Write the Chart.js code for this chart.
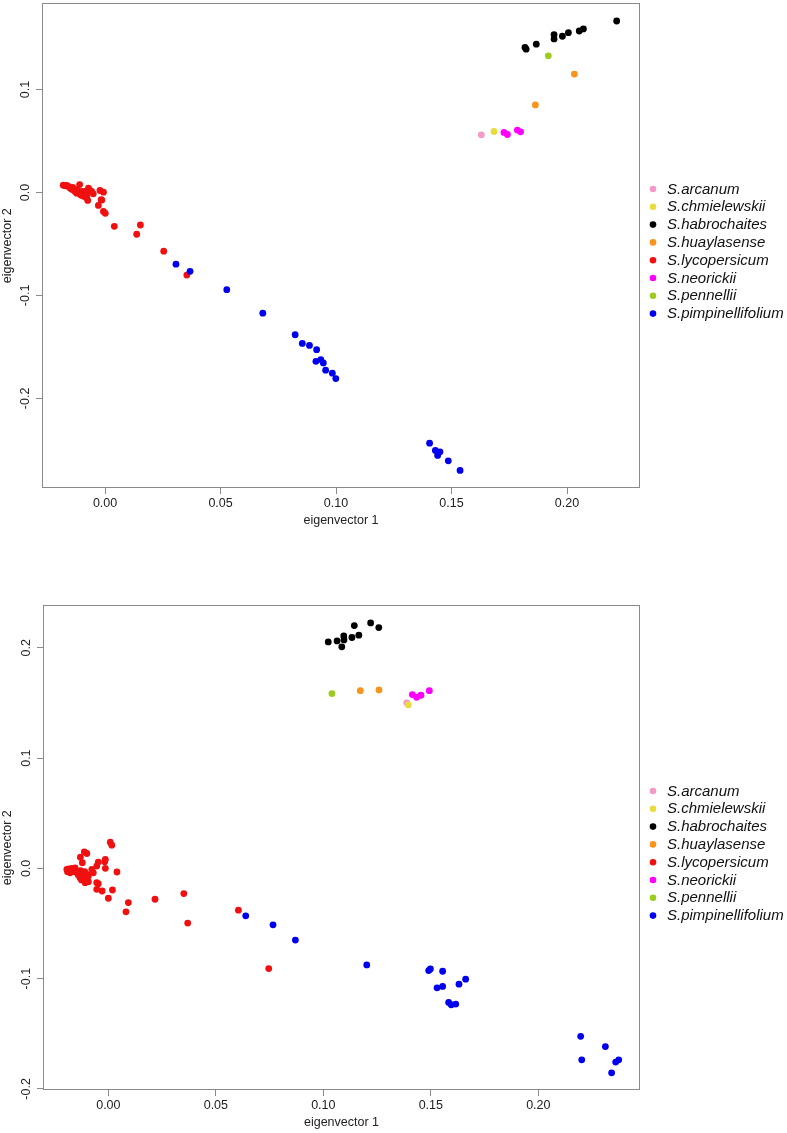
<!DOCTYPE html>
<html><head><meta charset="utf-8">
<script src="https://cdn.jsdelivr.net/npm/chart.js@4.4.0/dist/chart.umd.min.js"></script>
<style>
html,body{margin:0;padding:0;background:#fff;}
body{width:787px;height:1133px;position:relative;overflow:hidden;}
.wrap{position:absolute;left:0;width:787px;height:531px;}
#w1{top:0;} #w2{top:602px;}
canvas{display:block;}
</style></head><body>
<div class="wrap" id="w1"><canvas id="c1" width="787" height="531"></canvas></div>
<div class="wrap" id="w2"><canvas id="c2" width="787" height="531"></canvas></div>
<script>
// ---- categories ----
const species = ["S.arcanum","S.chmielewskii","S.habrochaites","S.huaylasense","S.lycopersicum","S.neorickii","S.pennellii","S.pimpinellifolium"];
const speciesColors = ["#f49ac8","#e8dc3c","#000000","#f7941d","#f01010","#ff00ff","#9acd20","#0000ee"];

// ---- tick labels ----
const xTickStep = 0.05;
const yTickStep = 0.1;

// ---- plot 1 (top) values [eigenvector 1, eigenvector 2] ----
const p1Arcanum = [[0.1629,0.0560]];
const p1Chmielewskii = [[0.1684,0.0592]];
const p1Habrochaites = [[0.2215,0.1665],[0.2071,0.1588],[0.2053,0.1568],[0.2006,0.1552],[0.1980,0.1517],[0.1944,0.1533],[0.1944,0.1491],[0.1867,0.1440],[0.1818,0.1408],[0.1823,0.1391]];
const p1Huaylasense = [[0.2032,0.1150],[0.1863,0.0850]];
const p1Lycopersicum = [[-0.0181,0.0071],[-0.0166,0.0068],[-0.0152,0.0048],[-0.0137,0.0026],[-0.0110,0.0077],[-0.0123,-0.0007],[-0.0101,-0.0022],[-0.0087,0.0010],[-0.0072,0.0042],[-0.0075,-0.0077],[-0.0051,-0.0013],[-0.0065,0.0019],[-0.0022,0.0019],[-0.0007,0.0003],[-0.0014,-0.0074],[-0.0029,-0.0126],[-0.0007,-0.0184],[0.0001,-0.0203],[0.0040,-0.0329],[0.0153,-0.0316],[0.0137,-0.0406],[0.0254,-0.0570],[0.0354,-0.0802],[-0.0173,0.0065],[-0.0159,0.0058],[-0.0144,0.0030],[-0.0130,0.0010],[-0.0108,-0.0010],[-0.0094,-0.0025],[-0.0079,-0.0039],[-0.0058,0.0010],[-0.0150,0.0040],[-0.0120,0.0030],[-0.0100,0.0010],[-0.0090,-0.0010],[-0.0115,-0.0005],[-0.0080,0.0000],[-0.0140,0.0050],[-0.0125,0.0015],[-0.0095,-0.0035],[-0.0085,-0.0045],[-0.0105,-0.0025],[-0.0017,-0.0071]];
const p1Neorickii = [[0.1727,0.0583],[0.1742,0.0563],[0.1785,0.0606],[0.1799,0.0589]];
const p1Pennellii = [[0.1919,0.1327]];
const p1Pimpinellifolium = [[0.0307,-0.0696],[0.0368,-0.0766],[0.0527,-0.0944],[0.0683,-0.1172],[0.0823,-0.1382],[0.0854,-0.1466],[0.0885,-0.1485],[0.0916,-0.1527],[0.0913,-0.1640],[0.0934,-0.1623],[0.0945,-0.1655],[0.0955,-0.1726],[0.0984,-0.1755],[0.0999,-0.1807],[0.1405,-0.2435],[0.1430,-0.2506],[0.1450,-0.2519],[0.1440,-0.2554],[0.1486,-0.2606],[0.1537,-0.2699]];

// ---- plot 2 (bottom) values ----
const p2Arcanum = [[0.1388,0.1501]];
const p2Chmielewskii = [[0.1395,0.1483]];
const p2Habrochaites = [[0.1023,0.2054],[0.1064,0.2063],[0.1086,0.2009],[0.1095,0.2108],[0.1096,0.2072],[0.1133,0.2094],[0.1144,0.2202],[0.1165,0.2115],[0.1220,0.2226],[0.1258,0.2184]];
const p2Huaylasense = [[0.1172,0.1612],[0.1259,0.1618]];
const p2Lycopersicum = [[-0.0193,-0.0009],[-0.0178,-0.0040],[-0.0155,0.0005],[-0.0132,-0.0085],[-0.0130,0.0102],[-0.0121,0.0051],[-0.0112,0.0150],[-0.0100,0.0135],[-0.0104,-0.0115],[-0.0098,-0.0054],[-0.0077,-0.0009],[-0.0054,0.0021],[-0.0047,0.0057],[-0.0054,-0.0130],[-0.0047,-0.0139],[-0.0054,-0.0190],[-0.0029,-0.0205],[-0.0014,0.0081],[-0.0014,0.0000],[0.0000,-0.0271],[0.0009,0.0237],[0.0016,0.0210],[0.0019,-0.0196],[0.0040,-0.0033],[0.0082,-0.0394],[0.0093,-0.0310],[0.0217,-0.0280],[0.0351,-0.0229],[0.0369,-0.0496],[0.0605,-0.0379],[0.0746,-0.0909],[-0.0163,-0.0009],[-0.0147,-0.0040],[-0.0116,-0.0054],[-0.0093,-0.0069],[-0.0070,-0.0040],[-0.0093,-0.0121],[-0.0108,-0.0130],[-0.0017,0.0060],[-0.0185,-0.0005],[-0.0170,0.0000],[-0.0160,-0.0030],[-0.0140,-0.0060],[-0.0130,-0.0020],[-0.0120,-0.0080],[-0.0110,-0.0030],[-0.0190,-0.0030],[-0.0125,-0.0105],[-0.0185,-0.0020]];
const p2Neorickii = [[0.1414,0.1576],[0.1434,0.1552],[0.1454,0.1570],[0.1493,0.1612]];
const p2Pennellii = [[0.1040,0.1585]];
const p2Pimpinellifolium = [[0.0639,-0.0430],[0.0766,-0.0512],[0.0870,-0.0650],[0.1202,-0.0876],[0.1490,-0.0927],[0.1498,-0.0912],[0.1555,-0.0933],[0.1662,-0.1005],[0.1631,-0.1050],[0.1529,-0.1083],[0.1555,-0.1071],[0.1583,-0.1216],[0.1595,-0.1237],[0.1616,-0.1231],[0.2197,-0.1523],[0.2312,-0.1616],[0.2202,-0.1736],[0.2360,-0.1757],[0.2374,-0.1736],[0.2341,-0.1854]];

const plot1Series = [p1Arcanum,p1Chmielewskii,p1Habrochaites,p1Huaylasense,p1Lycopersicum,p1Neorickii,p1Pennellii,p1Pimpinellifolium];
const plot2Series = [p2Arcanum,p2Chmielewskii,p2Habrochaites,p2Huaylasense,p2Lycopersicum,p2Neorickii,p2Pennellii,p2Pimpinellifolium];

// axis ranges
const plot1Range = {xmin:-0.0273, xmax:0.2316, ymin:-0.2870, ymax:0.1836};
const plot2Range = {xmin:-0.0304, xmax:0.2473, ymin:-0.2010, ymax:0.2385};

const FONT = '"Liberation Sans", Arial, Helvetica, sans-serif';
const AXIS_COL = '#8a8a8a';
const TEXT_COL = '#222';

const boxPlugin = {
  id: 'boxPlugin',
  afterDraw(chart) {
    const {ctx, chartArea: a} = chart;
    ctx.save();
    ctx.strokeStyle = AXIS_COL;
    ctx.lineWidth = 1;
    const l = Math.round(a.left) + 0.5, t = Math.round(a.top) + 0.5;
    const r = Math.round(a.right) - 0.5, b = Math.round(a.bottom) - 0.5;
    ctx.strokeRect(l, t, r - l, b - t);
    ctx.restore();
  }
};

const rLegend = {
  id: 'rLegend',
  afterDraw(chart) {
    const {ctx} = chart;
    const x0 = 653, tx = 667, y0 = 189, dy = 17.8;
    ctx.save();
    ctx.font = 'italic 15px ' + FONT;
    ctx.textBaseline = 'middle';
    ctx.textAlign = 'left';
    species.forEach((s, i) => {
      const y = y0 + i * dy;
      ctx.fillStyle = speciesColors[i];
      ctx.beginPath();
      ctx.arc(x0, y, 3.3, 0, Math.PI * 2);
      ctx.fill();
      ctx.fillStyle = '#111';
      ctx.fillText(s, tx, y + 0.5);
    });
    ctx.restore();
  }
};

function makeChart(id, series, range, yAxisWidth) {
  const datasets = series.map((pts, i) => ({
    label: species[i],
    data: pts.map(p => ({x: p[0], y: p[1]})),
    backgroundColor: speciesColors[i],
    borderWidth: 0,
    pointRadius: 3.4,
    pointHoverRadius: 3.4,
    pointStyle: 'circle',
    order: series.length - 1 - i
  }));
  return new Chart(document.getElementById(id), {
    type: 'scatter',
    data: {datasets},
    plugins: [boxPlugin, rLegend],
    options: {
      responsive: false,
      animation: false,
      devicePixelRatio: 1,
      events: [],
      layout: {padding: {top: 1, right: 147, bottom: 0, left: 0}},
      plugins: {legend: {display: false}, tooltip: {enabled: false}},
      scales: {
        x: {
          type: 'linear', position: 'bottom',
          min: range.xmin, max: range.xmax,
          afterFit: s => { s.height = 43; s.paddingLeft = 0; s.paddingRight = 0; },
          border: {display: false},
          grid: {drawOnChartArea: false, drawTicks: true, tickLength: 6, color: AXIS_COL, tickColor: AXIS_COL},
          ticks: {stepSize: xTickStep, includeBounds: false, maxRotation: 0, minRotation: 0, padding: 2,
                  color: TEXT_COL, font: {family: FONT, size: 12.5},
                  callback: v => Number(v).toFixed(2)},
          title: {display: true, text: 'eigenvector 1', color: TEXT_COL, font: {family: FONT, size: 12.5}, padding: {top: 0, bottom: 2.5}}
        },
        y: {
          type: 'linear', position: 'left',
          min: range.ymin, max: range.ymax,
          afterFit: s => { s.width = yAxisWidth; s.paddingTop = 0; s.paddingBottom = 0; },
          border: {display: false},
          grid: {drawOnChartArea: false, drawTicks: true, tickLength: 6, color: AXIS_COL, tickColor: AXIS_COL},
          ticks: {stepSize: yTickStep, includeBounds: false, minRotation: 90, maxRotation: 90, crossAlign: 'center', padding: 0,
                  color: TEXT_COL, font: {family: FONT, size: 12.5},
                  callback: v => Number(v).toFixed(1)},
          title: {display: true, text: 'eigenvector 2', color: TEXT_COL, font: {family: FONT, size: 12.5}, padding: {top: 0, bottom: 0}}
        }
      }
    }
  });
}

makeChart('c1', plot1Series, plot1Range, 42);
makeChart('c2', plot2Series, plot2Range, 43);
</script>
</body></html>
